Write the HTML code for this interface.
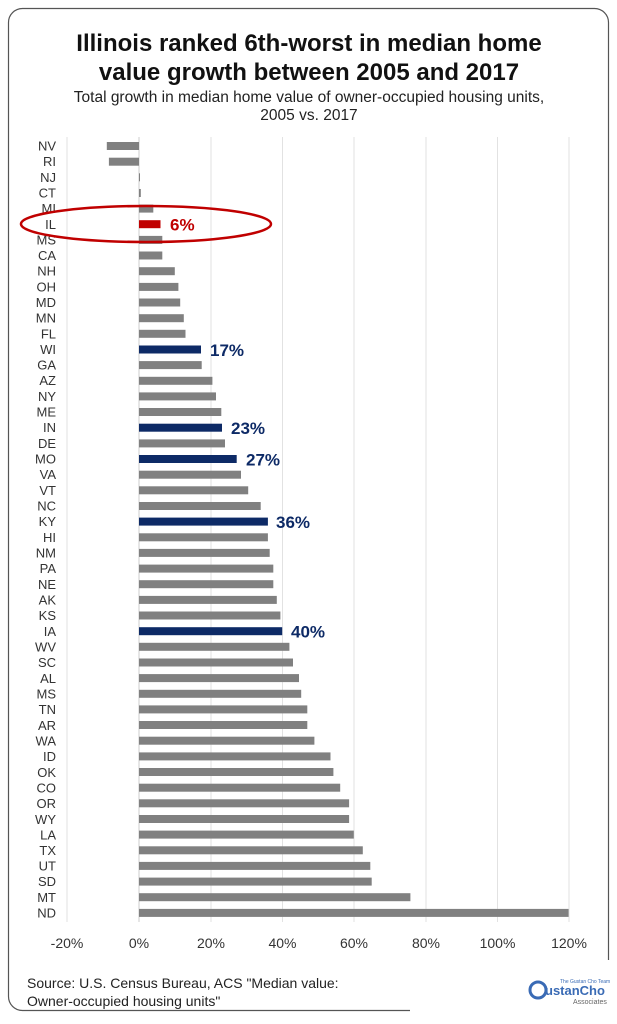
<!DOCTYPE html><html><head><meta charset="utf-8"><style>body{margin:0;background:#fff}svg{display:block;font-family:"Liberation Sans",Arial,sans-serif}</style></head><body>
<svg width="617" height="1024" viewBox="0 0 617 1024" xmlns="http://www.w3.org/2000/svg">
<rect x="8.5" y="8.5" width="600" height="1002" rx="14" fill="#fff" stroke="#555" stroke-width="1.2"/>
<rect x="410" y="960" width="207" height="64" fill="#fff"/>
<text x="309" y="51" text-anchor="middle" font-size="24" font-weight="bold" fill="#111">Illinois ranked 6th-worst in median home</text>
<text x="309" y="80" text-anchor="middle" font-size="24" font-weight="bold" fill="#111">value growth between 2005 and 2017</text>
<text x="309" y="102" text-anchor="middle" font-size="15.5" fill="#222">Total growth in median home value of owner-occupied housing units,</text>
<text x="309" y="120" text-anchor="middle" font-size="15.5" fill="#222">2005 vs. 2017</text>
<g stroke="#e2e2e2" stroke-width="1">
<line x1="67" y1="137" x2="67" y2="922"/><line x1="211" y1="137" x2="211" y2="922"/><line x1="282.5" y1="137" x2="282.5" y2="922"/><line x1="354" y1="137" x2="354" y2="922"/><line x1="426" y1="137" x2="426" y2="922"/><line x1="497.5" y1="137" x2="497.5" y2="922"/><line x1="569" y1="137" x2="569" y2="922"/>
</g>
<line x1="139" y1="137" x2="139" y2="922" stroke="#ccc"/>
<g font-size="13" fill="#333" text-anchor="end">
<text x="56" y="150.5">NV</text><text x="56" y="166">RI</text><text x="56" y="182">NJ</text><text x="56" y="197.5">CT</text><text x="56" y="213">MI</text><text x="56" y="229">IL</text><text x="56" y="244.5">MS</text><text x="56" y="260">CA</text><text x="56" y="275.5">NH</text><text x="56" y="291.5">OH</text><text x="56" y="307">MD</text><text x="56" y="322.5">MN</text><text x="56" y="338.5">FL</text><text x="56" y="354">WI</text><text x="56" y="369.5">GA</text><text x="56" y="385">AZ</text><text x="56" y="401">NY</text><text x="56" y="416.5">ME</text><text x="56" y="432">IN</text><text x="56" y="448">DE</text><text x="56" y="463.5">MO</text><text x="56" y="479">VA</text><text x="56" y="495">VT</text><text x="56" y="510.5">NC</text><text x="56" y="526">KY</text><text x="56" y="542">HI</text><text x="56" y="557.5">NM</text><text x="56" y="573">PA</text><text x="56" y="589">NE</text><text x="56" y="604.5">AK</text><text x="56" y="620">KS</text><text x="56" y="636">IA</text><text x="56" y="651.5">WV</text><text x="56" y="667">SC</text><text x="56" y="683">AL</text><text x="56" y="698.5">MS</text><text x="56" y="714">TN</text><text x="56" y="730">AR</text><text x="56" y="745.5">WA</text><text x="56" y="761">ID</text><text x="56" y="777">OK</text><text x="56" y="792.5">CO</text><text x="56" y="808">OR</text><text x="56" y="824">WY</text><text x="56" y="839.5">LA</text><text x="56" y="855">TX</text><text x="56" y="870.5">UT</text><text x="56" y="886">SD</text><text x="56" y="902">MT</text><text x="56" y="917.5">ND</text>
</g>
<g fill="#808080">
<rect x="106.8" y="142" width="32.2" height="8"/><rect x="108.9" y="157.7" width="30.1" height="8"/><rect x="139" y="173.3" width="1" height="8"/><rect x="139" y="189" width="1.8" height="8"/><rect x="139" y="204.6" width="14.3" height="8"/>
<rect x="139" y="235.9" width="23.3" height="8"/><rect x="139" y="251.5" width="23.3" height="8"/><rect x="139" y="267.2" width="35.8" height="8"/><rect x="139" y="282.9" width="39.4" height="8"/><rect x="139" y="298.5" width="41.2" height="8"/><rect x="139" y="314.2" width="44.8" height="8"/><rect x="139" y="329.8" width="46.5" height="8"/>
<rect x="139" y="361.1" width="62.7" height="8"/><rect x="139" y="376.8" width="73.4" height="8"/><rect x="139" y="392.4" width="77" height="8"/><rect x="139" y="408" width="82.3" height="8"/>
<rect x="139" y="439.4" width="86" height="8"/>
<rect x="139" y="470.7" width="102" height="8"/><rect x="139" y="486.3" width="109.2" height="8"/><rect x="139" y="502" width="121.7" height="8"/>
<rect x="139" y="533.3" width="128.9" height="8"/><rect x="139" y="548.9" width="130.7" height="8"/><rect x="139" y="564.6" width="134.3" height="8"/><rect x="139" y="580.2" width="134.3" height="8"/><rect x="139" y="595.9" width="137.8" height="8"/><rect x="139" y="611.5" width="141.4" height="8"/>
<rect x="139" y="642.8" width="150.4" height="8"/><rect x="139" y="658.5" width="154" height="8"/><rect x="139" y="674.1" width="160" height="8"/><rect x="139" y="689.8" width="162.2" height="8"/><rect x="139" y="705.4" width="168.3" height="8"/><rect x="139" y="721" width="168.3" height="8"/><rect x="139" y="736.7" width="175.4" height="8"/><rect x="139" y="752.4" width="191.5" height="8"/><rect x="139" y="768" width="194.4" height="8"/><rect x="139" y="783.7" width="201.2" height="8"/><rect x="139" y="799.3" width="210.1" height="8"/><rect x="139" y="815" width="210.1" height="8"/><rect x="139" y="830.6" width="214.8" height="8"/><rect x="139" y="846.3" width="223.8" height="8"/><rect x="139" y="861.9" width="231.3" height="8"/><rect x="139" y="877.6" width="232.7" height="8"/><rect x="139" y="893.2" width="271.4" height="8"/><rect x="139" y="908.9" width="429.6" height="8"/>
</g>
<rect x="139" y="220.2" width="21.5" height="8" fill="#c00000"/>
<g fill="#0d2a66">
<rect x="139" y="345.5" width="62" height="8"/><rect x="139" y="423.7" width="83" height="8"/><rect x="139" y="455" width="97.7" height="8"/><rect x="139" y="517.6" width="128.9" height="8"/><rect x="139" y="627.2" width="143.2" height="8"/>
</g>
<g font-size="17" font-weight="bold">
<text x="170" y="230.5" fill="#c00000">6%</text>
<text x="210" y="356" fill="#0d2a66">17%</text>
<text x="231" y="434" fill="#0d2a66">23%</text>
<text x="246" y="465.5" fill="#0d2a66">27%</text>
<text x="276" y="528" fill="#0d2a66">36%</text>
<text x="291" y="637.5" fill="#0d2a66">40%</text>
</g>
<ellipse cx="146" cy="224" rx="125" ry="18" fill="none" stroke="#c00000" stroke-width="2.5"/>
<g font-size="14" fill="#333" text-anchor="middle">
<text x="67" y="948">-20%</text><text x="139" y="948">0%</text><text x="211" y="948">20%</text><text x="282.5" y="948">40%</text><text x="354" y="948">60%</text><text x="426" y="948">80%</text><text x="497.5" y="948">100%</text><text x="569" y="948">120%</text>
</g>
<text x="27" y="988" font-size="14" fill="#222">Source: U.S. Census Bureau, ACS "Median value:</text>
<text x="27" y="1006" font-size="14" fill="#222">Owner-occupied housing units"</text>
<circle cx="538" cy="990" r="8" fill="none" stroke="#3a6bb5" stroke-width="3"/>
<text x="545" y="995" font-size="13" font-weight="bold" fill="#3a6bb5">ustanCho</text>
<text x="573" y="1004" font-size="7" fill="#666">Associates</text>
<text x="560" y="983" font-size="5" fill="#3a6bb5">The Gustan Cho Team</text>
</svg>
</body></html>
